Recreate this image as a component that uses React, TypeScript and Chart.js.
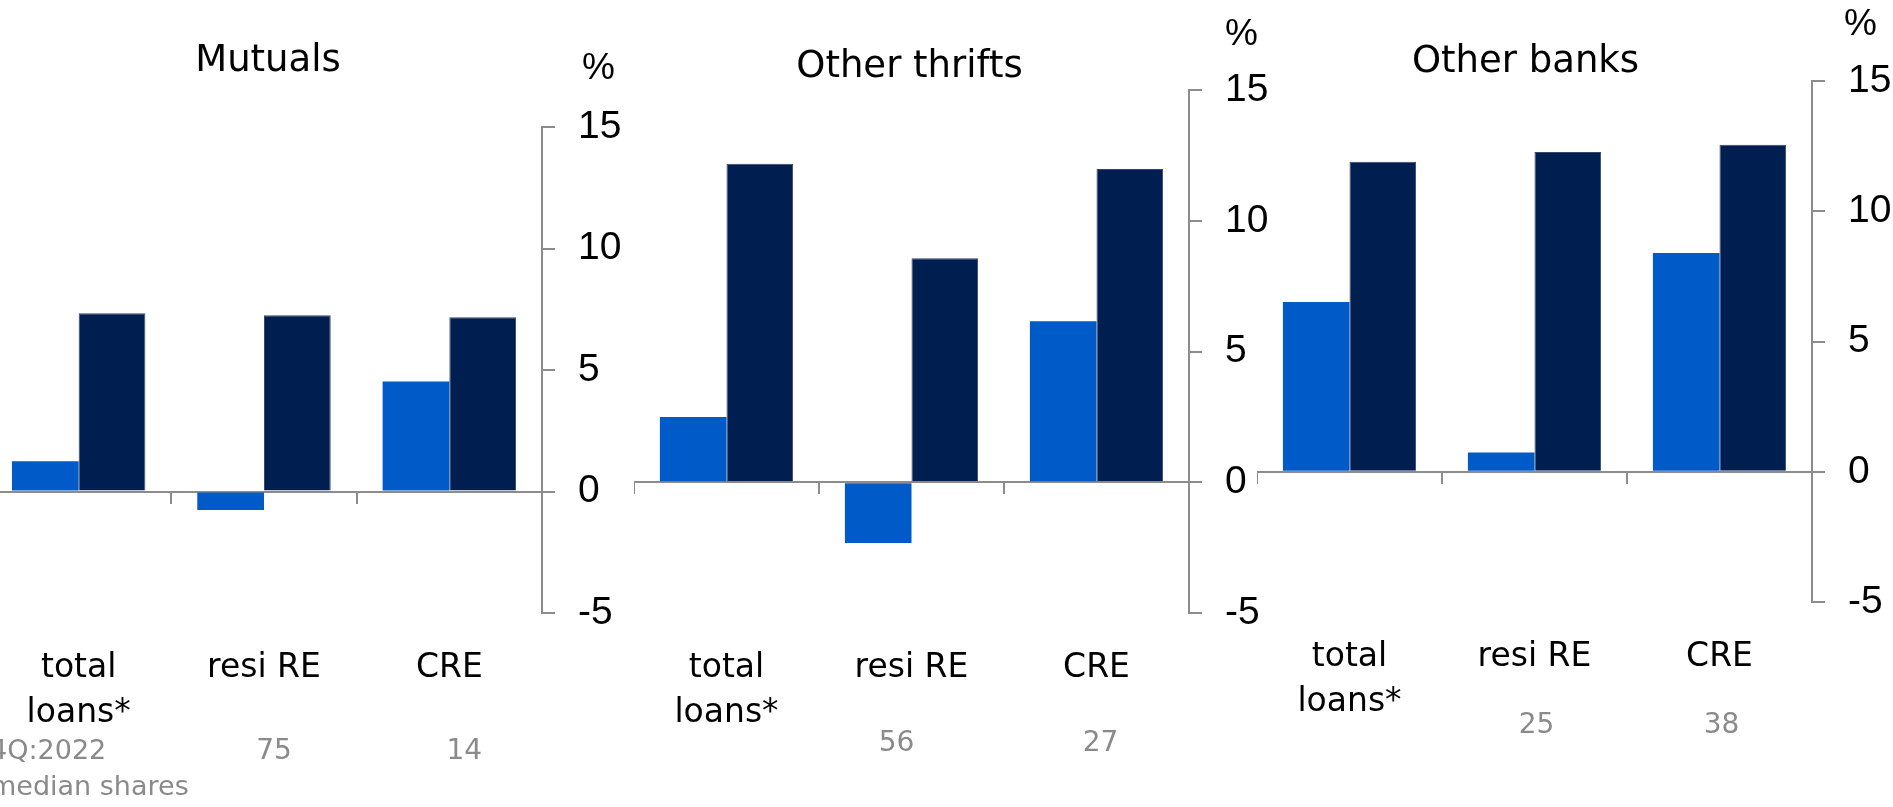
import React, { useEffect, useRef } from 'react';
import { Chart, registerables } from 'chart.js';

Chart.register(...registerables);

// ---------- data ----------
const categories: (string | string[])[] = [['total', 'loans*'], 'resi RE', 'CRE'];
const panelTitles = ['Mutuals', 'Other thrifts', 'Other banks'];
const seriesNames = ['Series 1', 'Series 2'];

const mutualsLight = [1.25, -0.76, 4.53];
const mutualsDark = [7.34, 7.25, 7.17];
const thriftsLight = [2.5, -2.32, 6.16];
const thriftsDark = [12.18, 8.57, 11.98];
const banksLight = [6.52, 0.74, 8.4];
const banksDark = [11.9, 12.27, 12.55];

const mutualsShares = ['', '75', '14'];
const thriftsShares = ['', '56', '27'];
const banksShares = ['', '25', '38'];
const sharesNote = ['4Q:2022', 'median shares'];

const yMin = -5;
const yMax = 15;
const yStep = 5;

// ---------- style ----------
const LIGHT = '#005ac8';
const DARK = '#001e4f';
const DARK_EDGE = '#34466c';
const GRAY = '#8c8c8c';
const GRAY_TEXT = '#8a8a8a';
const AXIS_W = 100;
const H = 807;

type PanelCfg = {
  left: number; width: number; top: number; bottom: number;
  titleDx: number; titleY: number; pctDx: number; pctY: number;
  sharesY: number; sharesDx: number[]; noteX?: number; noteY2?: number;
};

const LAYOUT: PanelCfg[] = [
  { left: -14, width: 556, top: 127, bottom: 613, titleDx: 4, titleY: 71, pctDx: 40, pctY: 79, sharesY: 759, sharesDx: [0, 10, 15], noteX: 4, noteY2: 795 },
  { left: 634, width: 555, top: 90, bottom: 613, titleDx: -2, titleY: 77, pctDx: 36, pctY: 45, sharesY: 751, sharesDx: [0, -15, 4] },
  { left: 1257, width: 555, top: 81, bottom: 602, titleDx: -9, titleY: 72, pctDx: 32, pctY: 35, sharesY: 733, sharesDx: [0, 2, 2] },
];

const textPlugin = {
  id: 'panelText',
  afterDraw(chart: any, _args: any, opts: any) {
    const { ctx, chartArea, scales } = chart;
    ctx.save();
    ctx.textBaseline = 'alphabetic';
    ctx.fillStyle = '#000';
    ctx.font = '37px "DejaVu Sans"';
    ctx.textAlign = 'center';
    ctx.fillText(opts.title, (chartArea.left + chartArea.right) / 2 + opts.cfg.titleDx, opts.cfg.titleY);
    ctx.font = '37px "Liberation Sans"';
    ctx.textAlign = 'left';
    ctx.fillText('%', chartArea.right + opts.cfg.pctDx, opts.cfg.pctY);
    ctx.fillStyle = GRAY_TEXT;
    ctx.font = '28px "DejaVu Sans"';
    ctx.textAlign = 'center';
    (opts.shares as string[]).forEach((s, i) => {
      if (s) ctx.fillText(s, scales.x.getPixelForValue(i) + opts.cfg.sharesDx[i], opts.cfg.sharesY);
    });
    if (opts.note) {
      ctx.font = '27px "DejaVu Sans"';
      ctx.textAlign = 'left';
      ctx.fillText(opts.note[0], opts.cfg.noteX, opts.cfg.sharesY);
      ctx.fillText(opts.note[1], opts.cfg.noteX, opts.cfg.noteY2);
    }
    ctx.restore();
  },
};

function Panel(props: { cfg: PanelCfg; title: string; light: number[]; dark: number[]; shares: string[]; note?: string[] }) {
  const ref = useRef<HTMLCanvasElement>(null);
  const { cfg } = props;
  useEffect(() => {
    if (!ref.current) return;
    const chart = new Chart(ref.current, {
      type: 'bar',
      data: {
        labels: categories as any,
        datasets: [
          { label: seriesNames[0], data: props.light, backgroundColor: LIGHT, borderWidth: 0, categoryPercentage: 0.72, barPercentage: 1, xAxisID: 'x', yAxisID: 'y' },
          { label: seriesNames[1], data: props.dark, backgroundColor: DARK, borderColor: DARK_EDGE, borderWidth: 1, categoryPercentage: 0.72, barPercentage: 1, xAxisID: 'x', yAxisID: 'y' },
        ],
      },
      options: {
        responsive: false,
        animation: false,
        devicePixelRatio: 1,
        layout: { padding: { top: cfg.top, left: 0, right: 0, bottom: 0 } },
        plugins: {
          legend: { display: false },
          tooltip: { enabled: false },
          panelText: { title: props.title, shares: props.shares, note: props.note, cfg },
        } as any,
        scales: {
          x: {
            type: 'category',
            position: 'bottom',
            offset: true,
            grid: { display: false, drawTicks: false },
            border: { display: false },
            ticks: {
              font: { family: 'DejaVu Sans', size: 33, lineHeight: 1.36 },
              color: '#000',
              padding: 33,
              autoSkip: false,
              maxRotation: 0,
              minRotation: 0,
            },
            afterFit: (s: any) => { s.height = H - cfg.bottom; },
          },
          x2: {
            type: 'category',
            axis: 'x',
            position: { y: 0 },
            offset: true,
            grid: { offset: true, drawOnChartArea: false, drawTicks: true, tickLength: 12, color: GRAY, lineWidth: 2 },
            border: { display: false },
            ticks: { display: false },
          } as any,
          y: {
            position: 'right',
            min: yMin,
            max: yMax,
            ticks: {
              stepSize: yStep,
              font: { family: 'Liberation Sans', size: 39 },
              color: '#000',
              padding: 23,
            },
            grid: {
              color: (c: any) => (c.tick && c.tick.value === 0 ? GRAY : 'rgba(0,0,0,0)'),
              tickColor: GRAY,
              lineWidth: 2,
              tickLength: 13,
              drawOnChartArea: true,
            },
            border: { display: true, color: GRAY, width: 2 },
            afterFit: (s: any) => { s.width = AXIS_W; },
          },
        },
      },
      plugins: [textPlugin],
    });
    return () => chart.destroy();
  }, []);
  const w = cfg.width + AXIS_W;
  return (
    <canvas
      ref={ref}
      width={w}
      height={H}
      style={{ position: 'absolute', left: cfg.left, top: 0, width: w, height: H }}
    />
  );
}

export default function App() {
  return (
    <div style={{ position: 'absolute', left: 0, top: 0, width: 1893, height: H, overflow: 'hidden', background: '#fff' }}>
      <Panel cfg={LAYOUT[0]} title={panelTitles[0]} light={mutualsLight} dark={mutualsDark} shares={mutualsShares} note={sharesNote} />
      <Panel cfg={LAYOUT[1]} title={panelTitles[1]} light={thriftsLight} dark={thriftsDark} shares={thriftsShares} />
      <Panel cfg={LAYOUT[2]} title={panelTitles[2]} light={banksLight} dark={banksDark} shares={banksShares} />
    </div>
  );
}
